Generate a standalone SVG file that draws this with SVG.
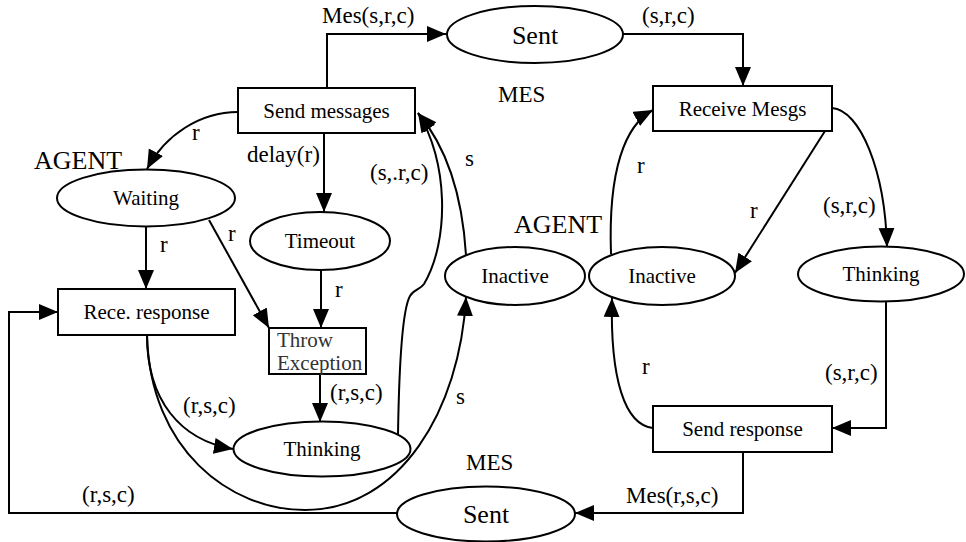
<svg xmlns="http://www.w3.org/2000/svg" width="966" height="542" viewBox="0 0 966 542" font-family="'Liberation Serif', 'DejaVu Serif', serif">
<defs>
<marker id="ah" markerUnits="userSpaceOnUse" markerWidth="20" markerHeight="18" refX="19" refY="8" orient="auto">
<path d="M0,0 L19,8 L0,16 z" fill="#000"/>
</marker>
<style>
text{font-family:'Liberation Serif','DejaVu Serif',serif}
.n{fill:#fff;stroke:#000;stroke-width:2}
.t{font-size:21px;fill:#000;text-anchor:middle}
.big{font-size:26px;fill:#000}
.lb{font-size:23px;fill:#000}
.c path{fill:none;stroke:#000;stroke-width:2;marker-end:url(#ah)}
.ex{font-size:21px;fill:#333}
</style>
</defs>
<rect width="966" height="542" fill="#fff"/>
<g class="c" id="connectors">
<path d="M327 88 V34 H446"/>
<path d="M623 34 H743 V86"/>
<path d="M238 112 C200 112 165 135 147 169"/>
<path d="M324 133 V212"/>
<path d="M146 227 V289"/>
<path d="M209 220 L269 328"/>
<path d="M321 270 V328"/>
<path d="M320 374 V422"/>
<path d="M147 335 C147 400 180 440 233 449"/>
<path d="M147 335 C150 450 230 510 305 510 C400 510 460 410 466 297"/>
<path d="M398 435 C399 370 402 310 410 296 C414 289 420 290 424 284 C450 240 448 160 418 113"/>
<path d="M466 255 C462 190 445 145 418 113"/>
<path d="M611 254 C608 170 625 125 653 110"/>
<path d="M825 131 L735 273"/>
<path d="M832 108 C860 110 885 170 887 247"/>
<path d="M886 302 V428 H832"/>
<path d="M653 428 C625 425 610 380 612 298"/>
<path d="M743 452 V513 H575"/>
<path d="M397 513 H9 V312 H58"/>
</g>
<g id="arc-labels">
<text class="lb" x="322" y="23">Mes(s,r,c)</text>
<text class="lb" x="642" y="23">(s,r,c)</text>
<text class="lb" x="192" y="140">r</text>
<text class="lb" x="247" y="162">delay(r)</text>
<text class="lb" x="160" y="252">r</text>
<text class="lb" x="228" y="241">r</text>
<text class="lb" x="335" y="297">r</text>
<text class="lb" x="330" y="400">(r,s,c)</text>
<text class="lb" x="183" y="413">(r,s,c)</text>
<text class="lb" x="456" y="404">s</text>
<text class="lb" x="370" y="180">(s,.r,c)</text>
<text class="lb" x="465" y="166">s</text>
<text class="lb" x="637" y="173">r</text>
<text class="lb" x="750" y="218">r</text>
<text class="lb" x="823" y="213">(s,r,c)</text>
<text class="lb" x="825" y="380">(s,r,c)</text>
<text class="lb" x="642" y="374">r</text>
<text class="lb" x="626" y="503">Mes(r,s,c)</text>
<text class="lb" x="82" y="502">(r,s,c)</text>
<text class="lb" x="498" y="102">MES</text>
<text class="lb" x="466" y="470">MES</text>
<text class="big" x="34" y="169">AGENT</text>
<text class="big" x="514" y="233">AGENT</text>
</g>
<g id="sent-top"><ellipse class="n" cx="535" cy="34.5" rx="88" ry="28.5"/><text class="big" x="535" y="44" text-anchor="middle">Sent</text></g>
<g id="send-messages"><rect class="n" x="238" y="88" width="177" height="45"/><text class="t" x="326.5" y="118">Send messages</text></g>
<g id="receive-mesgs"><rect class="n" x="653" y="86" width="179" height="45"/><text class="t" x="742.5" y="116">Receive Mesgs</text></g>
<g id="waiting"><ellipse class="n" cx="146" cy="198" rx="89" ry="28.5"/><text class="t" x="146" y="205">Waiting</text></g>
<g id="timeout"><ellipse class="n" cx="320" cy="241" rx="70" ry="29"/><text class="t" x="320" y="248">Timeout</text></g>
<g id="throw-exception"><rect class="n" x="269" y="328" width="97" height="46"/><text class="ex" x="277" y="347">Throw</text><text class="ex" x="277" y="370">Exception</text></g>
<g id="rece-response"><rect class="n" x="58" y="289" width="177" height="46"/><text class="t" x="146.5" y="319">Rece. response</text></g>
<g id="thinking-left"><ellipse class="n" cx="322" cy="449" rx="88.5" ry="27.5"/><text class="t" x="322" y="456">Thinking</text></g>
<g id="inactive-mid"><ellipse class="n" cx="515" cy="276" rx="70" ry="29"/><text class="t" x="515" y="283">Inactive</text></g>
<g id="inactive-right"><ellipse class="n" cx="662" cy="276" rx="73" ry="29"/><text class="t" x="662" y="283">Inactive</text></g>
<g id="thinking-right"><ellipse class="n" cx="881" cy="274" rx="83" ry="27.5"/><text class="t" x="881" y="281">Thinking</text></g>
<g id="send-response"><rect class="n" x="653" y="406" width="179" height="46"/><text class="t" x="742.5" y="436">Send response</text></g>
<g id="sent-bottom"><ellipse class="n" cx="486" cy="514" rx="89" ry="27.5"/><text class="big" x="486" y="523" text-anchor="middle">Sent</text></g>
</svg>
